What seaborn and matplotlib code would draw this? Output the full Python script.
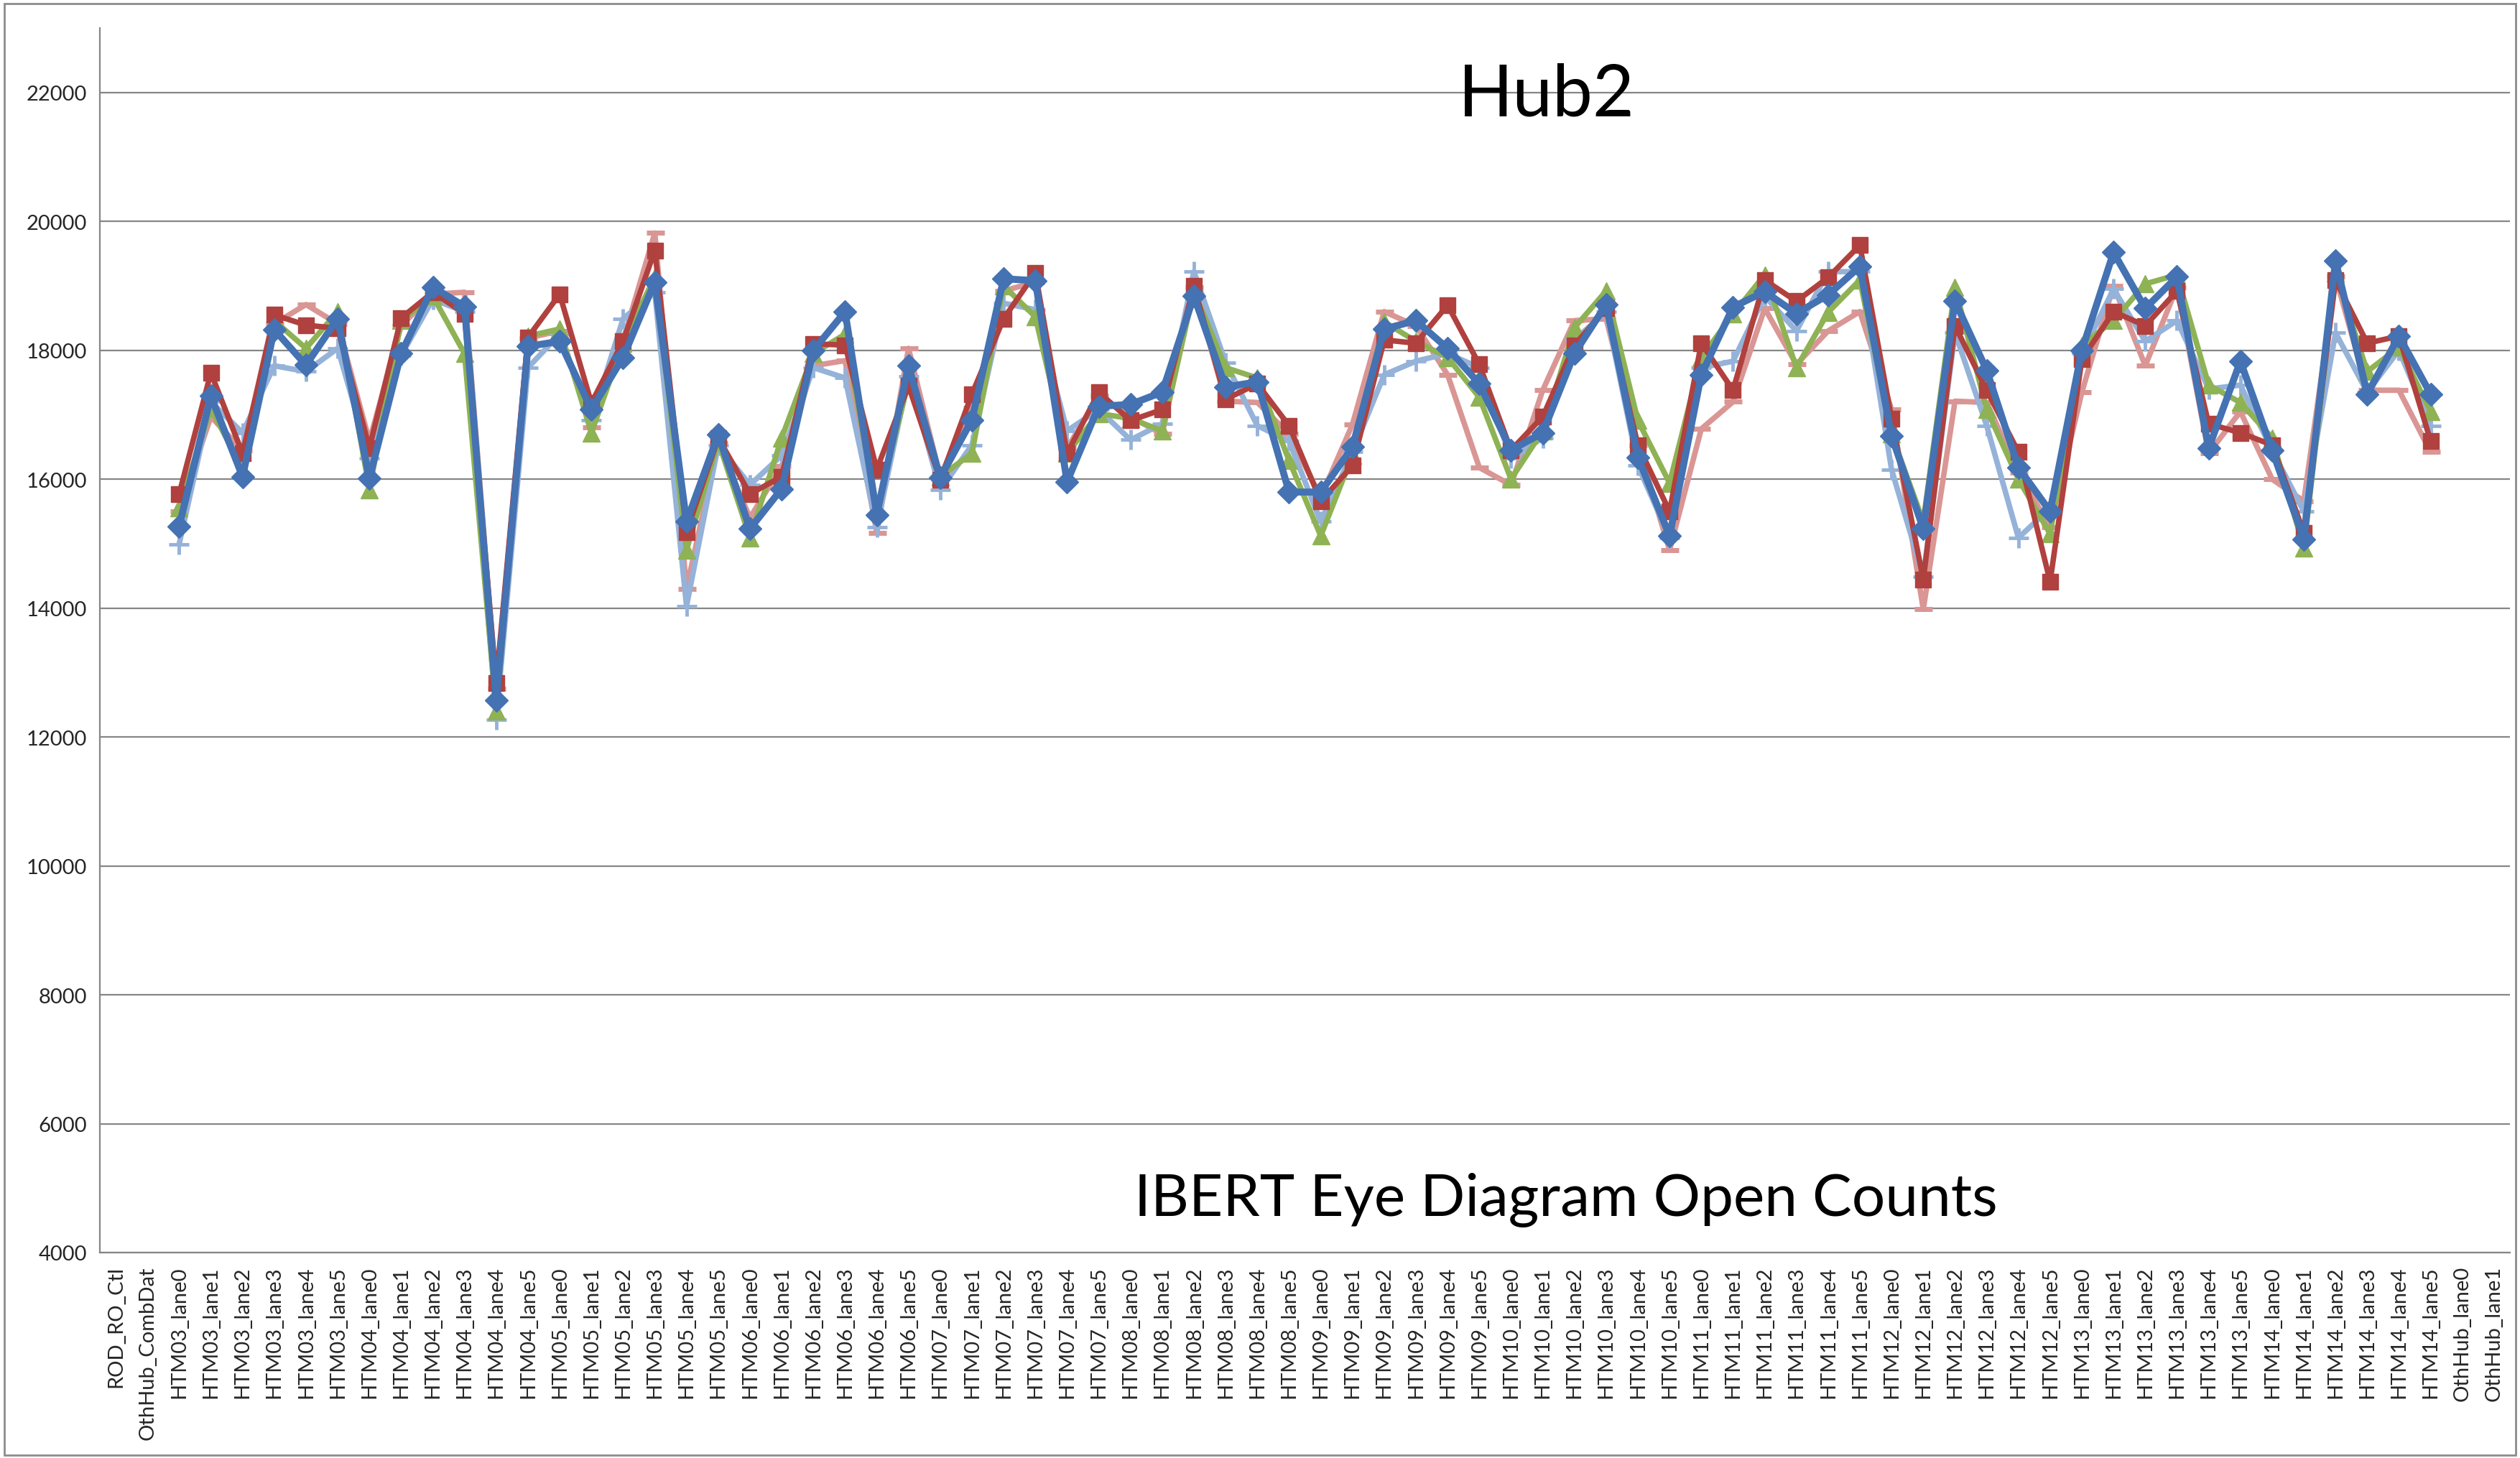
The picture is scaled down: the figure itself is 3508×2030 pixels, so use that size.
import numpy as np
import pandas as pd
import matplotlib
matplotlib.use("Agg")
import matplotlib.pyplot as plt
from matplotlib.patches import Rectangle
import seaborn as sns

categories = ["ROD_RO_Ctl", "OthHub_CombDat"]
for h in range(3, 15):
    for l in range(6):
        categories.append(f"HTM{h:02d}_lane{l}")
categories += ["OthHub_lane0", "OthHub_lane1"]

N = None
red_sq = [N, N,
    15770, 17650, 16400, 18550, 18390, 18340,
    16480, 18500, 18900, 18570, 12840, 18200,
    18870, 17180, 18140, 19550, 15180, 16640,
    15770, 16040, 18100, 18080, 16150, 17450,
    15990, 17320, 18490, 19200, 16400, 17350,
    16910, 17080, 19000, 17240, 17480, 16830,
    15660, 16210, 18160, 18110, 18700, 17780,
    16450, 16970, 18080, 18650, 16530, 15500,
    18110, 17380, 19090, 18760, 19130, 19630,
    16940, 14440, 18380, 17380, 16420, 14410,
    17860, 18600, 18380, 18920, 16860, 16720,
    16530, 15170, 19090, 18110, 18220, 16590,
    N, N]

green_tri = [N, N,
    15560, 17100, 16150, 18460, 18030, 18600,
    15840, 18460, 18840, 17950, 12400, 18220,
    18330, 16720, 18110, 19140, 14900, 16590,
    15090, 16640, 17950, 18250, 15530, 17510,
    16040, 16400, 19000, 18520, 16400, 17020,
    16940, 16750, 18920, 17730, 17570, 16290,
    15120, 16370, 18440, 18140, 17890, 17270,
    16000, 16750, 18350, 18920, 16910, 15940,
    17890, 18560, 19170, 17730, 18590, 19090,
    16700, 15340, 18980, 17080, 16000, 15150,
    18080, 18460, 19030, 19170, 17460, 17190,
    16640, 14930, 19200, 17670, 18050, 17050,
    N, N]

lightblue_plus = [N, N,
    14990, 17200, 16720, 17760, 17670, 18030,
    16320, 17920, 18790, 18600, 12270, 17730,
    18250, 16910, 18490, 18900, 14030, 16530,
    15910, 16370, 17730, 17570, 15260, 17600,
    15830, 16530, 18730, 18630, 16750, 17080,
    16610, 16860, 19220, 17810, 16830, 16590,
    15340, 16420, 17620, 17830, 17950, 17730,
    16320, 16640, 18160, 18600, 16210, 15090,
    17730, 17830, 18840, 18300, 19220, 19220,
    16150, 14490, 18270, 16830, 15090, 15550,
    17950, 18950, 18140, 18460, 17400, 17460,
    16450, 15500, 18270, 17350, 18000, 16830,
    N, N]

pink_dash = [N, N,
    15500, 16970, 16450, 18410, 18710, 18410,
    16590, 18380, 18870, 18900, 12750, 18190,
    18300, 16800, 18160, 19820, 14300, 16560,
    15400, 16200, 17760, 17840, 15170, 18030,
    16040, 17100, 18920, 19060, 16480, 17290,
    16970, 16700, 18980, 17210, 17190, 16700,
    15720, 16850, 18600, 18380, 17620, 16180,
    15910, 17380, 18460, 18490, 16530, 14900,
    16780, 17200, 18650, 17780, 18300, 18600,
    17080, 13980, 17210, 17190, 16100, 15260,
    17350, 19000, 17760, 18980, 16400, 17050,
    16000, 15660, 19140, 17380, 17380, 16420,
    N, N]

blue_dia = [N, N,
    15270, 17290, 16040, 18320, 17770, 18490,
    16010, 17950, 18980, 18680, 12570, 18060,
    18140, 17080, 17890, 19060, 15340, 16690,
    15230, 15850, 18000, 18600, 15450, 17760,
    16020, 16920, 19110, 19080, 15960, 17130,
    17160, 17350, 18840, 17430, 17510, 15800,
    15800, 16500, 18330, 18460, 18030, 17480,
    16450, 16720, 17950, 18710, 16340, 15120,
    17620, 18670, 18910, 18570, 18860, 19300,
    16670, 15230, 18760, 17690, 16180, 15500,
    18000, 19520, 18650, 19140, 16480, 17830,
    16450, 15070, 19390, 17320, 18220, 17320,
    N, N]

y_ticks = list(range(4000, 22001, 2000))
title_text = "Hub2"
subtitle_text = "IBERT Eye Diagram Open Counts"

sns.set_style("white")
plt.rcParams['font.family'] = ['Lato', 'DejaVu Sans']

W, H = 3508, 2031
fig = plt.figure(figsize=(W / 100, H / 100), dpi=100)
left_px, right_px, top_px, bottom_px = 139, 3494, 40, 1745
ax = fig.add_axes([left_px / W, 1 - bottom_px / H, (right_px - left_px) / W, (bottom_px - top_px) / H])

xpos = np.arange(len(categories))
series = [
    # name, data, color, marker, msize, mew, lw, z
    ("pink", pink_dash, "#D99694", "_", 18, 5, 5.5, 3),
    ("lightblue", lightblue_plus, "#95B2D9", "+", 20, 3.5, 5.5, 4),
    ("green", green_tri, "#8EB254", "^", 17, 1, 5.5, 5),
    ("red", red_sq, "#B0413E", "s", 16, 1, 5.5, 6),
    ("blue", blue_dia, "#4472B2", "D", 16, 1, 7.0, 7),
]
for name, data, color, mk, ms, mew, lw, z in series:
    df = pd.DataFrame({"x": xpos, "y": pd.array(data, dtype="Float64").astype(float)})
    df = df.dropna()
    sns.lineplot(data=df, x="x", y="y", ax=ax, color=color, marker=mk,
                 markersize=ms, markeredgewidth=mew, markeredgecolor=color,
                 markerfacecolor=color, linewidth=lw, estimator=None,
                 sort=False, zorder=z, legend=False)

ax.set_xlim(-0.5, len(categories) - 0.5)
ax.set_ylim(4000, 23000)
ax.set_yticks(y_ticks)
ax.set_yticklabels([str(v) for v in y_ticks], fontsize=21)
ax.set_xticks(xpos)
ax.set_xticklabels(categories, rotation=90, fontsize=21, va="top", ha="center")
ax.set_xticks(np.arange(-0.5, len(categories), 1.0), minor=True)
ax.tick_params(axis="x", which="major", length=0, pad=13)
ax.tick_params(axis="x", which="minor", length=7, width=1.5, color="#868686", direction="out")
ax.tick_params(axis="y", which="major", length=7, width=1.5, color="#868686", direction="out", pad=6)
ax.set_xlabel("")
ax.set_ylabel("")
ax.yaxis.grid(True, color="#868686", linewidth=1.6)
ax.xaxis.grid(False)
ax.set_axisbelow(True)
for s in ["top", "right"]:
    ax.spines[s].set_visible(False)
for s in ["left", "bottom"]:
    ax.spines[s].set_color("#868686")
    ax.spines[s].set_linewidth(1.6)

fig.text(2153 / W, 1 - 162 / H, title_text, fontsize=72, ha="center", va="baseline", color="black")
fig.text(2180 / W, 1 - 1693 / H, subtitle_text, fontsize=59, ha="center", va="baseline", color="black")

fig.patches.append(Rectangle((6 / W, 4 / H), (W - 12) / W, (H - 10) / H, transform=fig.transFigure,
                             fill=False, edgecolor="#8c8c8c", linewidth=2))

fig.savefig("out.png", dpi=100)
